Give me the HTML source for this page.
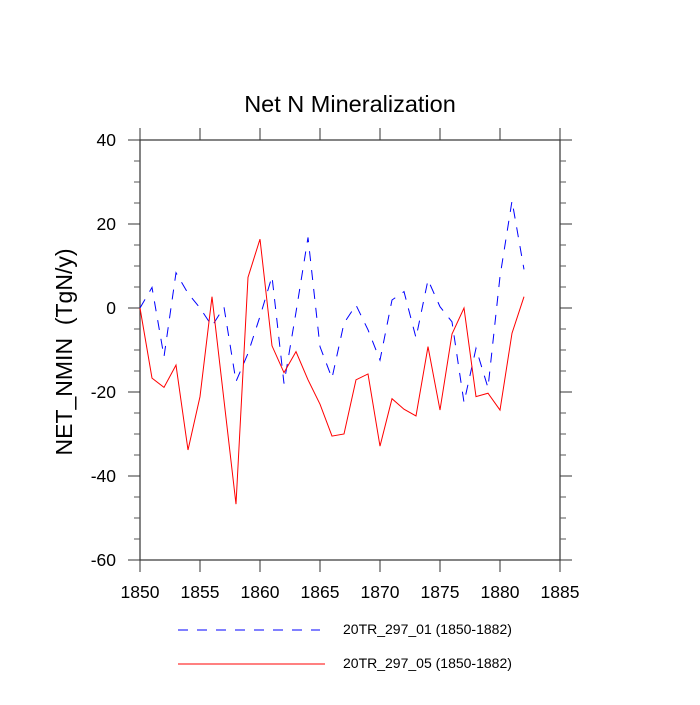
<!DOCTYPE html>
<html><head><meta charset="utf-8"><style>
body{margin:0;background:#fff;}
svg text{font-family:"Liberation Sans",sans-serif;fill:#000;}
</style></head><body>
<svg id="chart" width="700" height="700" xmlns="http://www.w3.org/2000/svg">
<text x="350" y="112" font-size="23.5" text-anchor="middle">Net N Mineralization</text>
<text transform="translate(72,352) rotate(-90)" font-size="23" text-anchor="middle">NET_NMIN&#160;&#160;(TgN/y)</text>
<g id="axes"></g>
<g id="series"></g>
<g>
<line x1="178" y1="630" x2="320" y2="630" stroke="#0000ff" stroke-width="1" stroke-dasharray="10,9"/>
<text x="343" y="634" font-size="14">20TR_297_01 (1850-1882)</text>
<line x1="178" y1="664" x2="325" y2="664" stroke="#ff0000" stroke-width="1"/>
<text x="343" y="668" font-size="14">20TR_297_05 (1850-1882)</text>
</g>
</svg>
<script>
const years = [1850,1851,1852,1853,1854,1855,1856,1857,1858,1859,1860,1861,1862,1863,1864,1865,1866,1867,1868,1869,1870,1871,1872,1873,1874,1875,1876,1877,1878,1879,1880,1881,1882];
const run01 = [0,4.9,-11.6,8.4,3.5,0,-4.3,0.2,-17.5,-10.8,-2,7.5,-18,-1,16.8,-9.2,-16.7,-3.6,0.7,-5.2,-12.4,1.9,3.9,-7.1,6.7,0.3,-3.3,-22.5,-9.6,-19,7.5,25.5,9.2];
const run05 = [0,-16.7,-18.9,-13.6,-33.8,-21.1,2.7,-22,-46.7,7.3,16.4,-9,-15.4,-10.4,-17.1,-22.9,-30.5,-30,-17.1,-15.7,-32.9,-21.6,-24.1,-25.7,-9.2,-24.3,-6.2,0,-21.1,-20.3,-24.3,-6,2.7];
const xTicks = [1850,1855,1860,1865,1870,1875,1880,1885];
const yTicks = [-60,-40,-20,0,20,40];
const yMinor = [-55,-50,-45,-35,-30,-25,-15,-10,-5,5,10,15,25,30,35];

const L=140,R=560,T=140,B=560;
const xs=v=>L+(v-1850)/(1885-1850)*(R-L);
const ys=v=>B-(v+60)/100*(B-T);
const NS="http://www.w3.org/2000/svg";
function mk(tag,attrs,parent){const e=document.createElementNS(NS,tag);for(const k in attrs)e.setAttribute(k,attrs[k]);parent.appendChild(e);return e;}
const ax=document.getElementById('axes');
const frame=mk('rect',{x:L,y:T,width:R-L,height:B-T,fill:'none',stroke:'#333',"stroke-width":1.2},ax);


xTicks.forEach(v=>{
  const x=xs(v);
  const t1=mk('line',{x1:x,y1:B,x2:x,y2:B+12,stroke:'#333'},ax);
  
  
  const t2=mk('line',{x1:x,y1:T,x2:x,y2:T-12,stroke:'#333'},ax);
  
  
  const tx=mk('text',{x:x,y:598,"font-size":17.5,"text-anchor":"middle"},ax);
  tx.textContent=v;
  
  
});
yTicks.forEach(v=>{
  const y=ys(v);
  const t1=mk('line',{x1:L,y1:y,x2:L-12,y2:y,stroke:'#333'},ax);
  
  
  const t2=mk('line',{x1:R,y1:y,x2:R+12,y2:y,stroke:'#333'},ax);
  
  
  const tx=mk('text',{x:116,y:y+6,"font-size":17.5,"text-anchor":"end"},ax);
  tx.textContent=v;
  
  
});
yMinor.forEach(v=>{
  const y=ys(v);
  const t1=mk('line',{x1:L,y1:y,x2:L-6,y2:y,stroke:'#555'},ax);
  
  
  const t2=mk('line',{x1:R,y1:y,x2:R+6,y2:y,stroke:'#555'},ax);
  
  
});
const sg=document.getElementById('series');
const p1=mk('polyline',{points:years.map((y,i)=>xs(y)+','+ys(run01[i])).join(' '),fill:'none',stroke:'#0000ff',"stroke-width":1,"stroke-dasharray":"10,9"},sg);


const p2=mk('polyline',{points:years.map((y,i)=>xs(y)+','+ys(run05[i])).join(' '),fill:'none',stroke:'#ff0000',"stroke-width":1},sg);


</script>
</body></html>
